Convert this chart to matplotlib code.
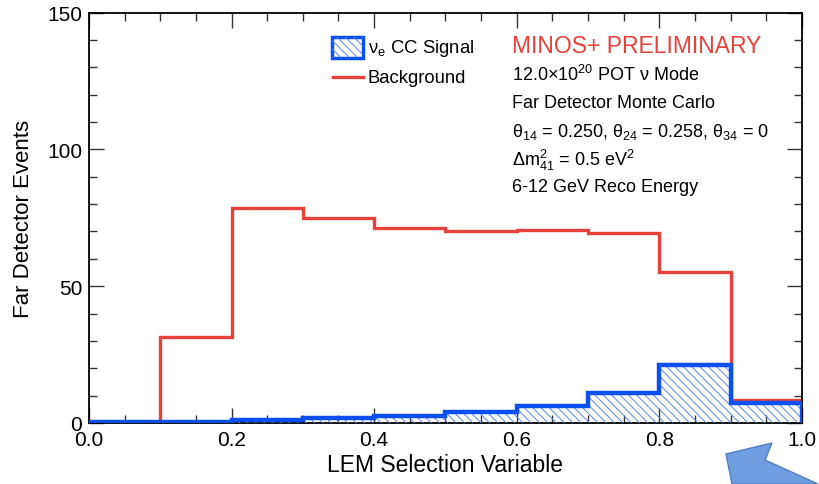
import numpy as np
import matplotlib.pyplot as plt
from matplotlib.patches import Rectangle, Polygon
from matplotlib.lines import Line2D
from matplotlib.ticker import MultipleLocator

plt.rcParams['font.family'] = ['Liberation Sans', 'DejaVu Sans']
plt.rcParams['mathtext.fontset'] = 'custom'
plt.rcParams['mathtext.rm'] = 'Liberation Sans'
plt.rcParams['mathtext.it'] = 'Liberation Sans'
plt.rcParams['mathtext.bf'] = 'Liberation Sans:bold'
plt.rcParams['hatch.linewidth'] = 0.7

edges = [0.0, 0.1, 0.2, 0.3, 0.4, 0.5, 0.6, 0.7, 0.8, 0.9, 1.0]
background = [0.0, 31.4, 78.5, 74.8, 71.2, 70.1, 70.4, 69.3, 55.1, 8.5]
signal = [0.3, 0.3, 1.2, 1.7, 2.7, 4.1, 6.3, 10.9, 21.2, 7.3]

red = "#e8413a"
blue = "#0a50f0"
hatch_blue = "#5a86e8"

fig = plt.figure(figsize=(8.19, 4.85), dpi=100)
ax = fig.add_axes([0.1087, 0.1258, 0.979 - 0.1087, 0.972 - 0.1258])

ax.stairs(background, edges, baseline=0, color=red, lw=2.4, zorder=2)
ax.stairs(signal, edges, baseline=0, fill=True, facecolor="none",
          edgecolor=hatch_blue, hatch="\\\\\\\\", lw=0, zorder=3)
ax.stairs(signal, edges, baseline=0, color=blue, lw=3.2, zorder=4)

ax.set_xlim(0, 1)
ax.set_ylim(0, 150)
ax.xaxis.set_major_locator(MultipleLocator(0.2))
ax.xaxis.set_minor_locator(MultipleLocator(0.05))
ax.yaxis.set_major_locator(MultipleLocator(50))
ax.yaxis.set_minor_locator(MultipleLocator(10))
ax.xaxis.set_major_formatter(lambda v, p: f"{v:.1f}")
ax.tick_params(which="both", direction="in", top=True, right=True,
               labelsize=15, width=1.0, color="#333333")
ax.tick_params(which="major", length=11)
ax.tick_params(which="minor", length=6)
ax.tick_params(axis="x", pad=5)
ax.tick_params(axis="y", pad=5)
for s in ax.spines.values():
    s.set_linewidth(1.3)

ax.set_xlabel("LEM Selection Variable", fontsize=16.5, labelpad=3)
ax.set_ylabel("Far Detector Events", fontsize=16, labelpad=9)

# legend drawn by hand
ax.add_patch(Rectangle((0.341, 0.889), 0.043, 0.051, transform=ax.transAxes,
                       facecolor="white", edgecolor=blue, lw=2.5, zorder=5))
ax.add_patch(Rectangle((0.341, 0.889), 0.043, 0.051, transform=ax.transAxes,
                       facecolor="none", edgecolor=hatch_blue, hatch="\\\\\\\\",
                       lw=0, zorder=5))
ax.add_line(Line2D([0.342, 0.384], [0.843, 0.843], transform=ax.transAxes,
                   color=red, lw=2.4, zorder=5))
ax.text(0.391, 0.914, "ν$_{e}$ CC Signal", transform=ax.transAxes,
        fontsize=13.3, va="center")
ax.text(0.391, 0.843, "Background", transform=ax.transAxes,
        fontsize=13.3, va="center")

tx = 0.5935
ax.text(tx, 0.921, "MINOS+ PRELIMINARY", transform=ax.transAxes,
        fontsize=16.5, color=red, va="center")
lines = [
    (0.850, "12.0×10$^{20}$ POT ν Mode"),
    (0.782, "Far Detector Monte Carlo"),
    (0.711, "θ$_{14}$ = 0.250, θ$_{24}$ = 0.258, θ$_{34}$ = 0"),
    (0.643, "Δm$^{2}_{41}$ = 0.5 eV$^{2}$"),
    (0.577, "6-12 GeV Reco Energy"),
]
for y, t in lines:
    ax.text(tx, y, t, transform=ax.transAxes, fontsize=13, va="center")

# callout arrow from the slide
W, H = 819, 485
pts = [(726, 455), (772, 444), (765, 461), (818, 485), (732, 485)]
fig.patches.append(Polygon([(x / W, 1 - y / H) for x, y in pts],
                           closed=True, transform=fig.transFigure,
                           facecolor="#6e9ee0", edgecolor="#4f7fc4", lw=1))

fig.savefig("out.png", dpi=100)
